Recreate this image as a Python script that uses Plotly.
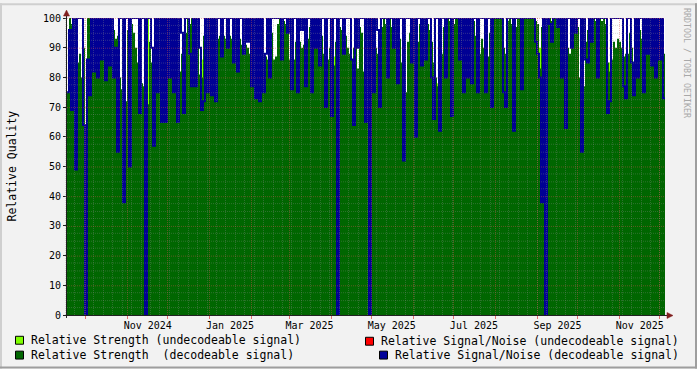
import math
import pandas as pd
import plotly.graph_objects as go

# ---------------- data (2-pixel bins) ----------------
t_start = "2024-09-17 02:00"
t_end = "2025-12-04 18:00"

strength_decodeable = [
    75, 100, 98, 95, 92, 85, 88, 80, 90, 62,
    100, 100, 98, 96, 90, 92, 94, 91, 92, 90,
    93, 95, 97, 96, 93, 94, 80, 76, 74, 72,
    96, 100, 98, 95, 90, 85, 80, 78, 77, 90,
    71, 92, 85, 82, 90, 93, 95, 88, 86, 90,
    98, 100, 97, 95, 93, 85, 82, 88, 92, 95,
    100, 98, 100, 97, 99, 96, 81, 80, 94, 97,
    95, 94, 93, 96, 94, 93, 94, 95, 94, 93,
    93, 94, 93, 92, 93, 92, 93, 91, 92, 91,
    90, 88, 89, 86, 84, 82, 80, 85, 83, 87,
    86, 94, 95, 86, 87, 98, 100, 97, 99, 98,
    97, 86, 85, 86, 92, 91, 92, 90, 91, 90,
    93, 97, 98, 99, 97, 95, 96, 94, 88, 85,
    86, 90, 85, 84, 92, 95, 97, 96, 98, 94,
    90, 88, 86, 90, 92, 83, 97, 95, 82, 77,
    75, 74, 80, 96, 90, 88, 87, 97, 100, 98,
    99, 100, 97, 95, 92, 94, 93, 85, 72, 75,
    92, 95, 90, 88, 86, 92, 98, 100, 99, 97,
    98, 96, 92, 85, 80, 77, 78, 88, 97, 98,
    100, 99, 100, 98, 100, 100, 99, 100, 87, 86,
    90, 97, 98, 99, 94, 84, 88, 93, 90, 86,
    87, 95, 96, 100, 100, 100, 100, 100, 90, 88,
    99, 100, 98, 85, 97, 100, 100, 100, 100, 100,
    100, 100, 100, 100, 99, 98, 83, 97, 99, 100,
    100, 100, 99, 100, 100, 100, 99, 100, 95, 93,
    90, 88, 95, 100, 98, 97, 80, 79, 77, 92,
    96, 100, 98, 100, 99, 97, 100, 99, 100, 98,
    85, 82, 86, 92, 90, 93, 92, 90, 87, 88,
    88, 95, 90, 83, 86, 92, 96, 93, 90, 89,
    91, 92, 90, 86, 88, 87, 95, 98, 88,
]

snr_decodeable = [
    75, 96, 69, 100, 49, 100, 100, 100, 64, 0,
    86, 74, 100, 82, 100, 80, 100, 86, 100, 79,
    100, 84, 100, 80, 90, 55, 100, 100, 38, 100,
    100, 50, 100, 100, 100, 100, 68, 100, 100, 0,
    100, 100, 90, 57, 100, 75, 100, 65, 100, 65,
    100, 80, 100, 75, 100, 65, 100, 95, 68, 100,
    100, 88, 77, 100, 77, 100, 90, 69, 72, 100,
    75, 100, 74, 100, 72, 100, 100, 87, 100, 100,
    90, 100, 100, 85, 100, 82, 100, 100, 88, 100,
    92, 100, 77, 100, 73, 100, 72, 100, 75, 88,
    100, 80, 100, 100, 100, 100, 100, 86, 100, 100,
    95, 100, 76, 100, 100, 75, 100, 96, 100, 77,
    100, 100, 75, 100, 90, 100, 84, 100, 100, 70,
    100, 100, 67, 100, 100, 0, 100, 100, 88, 100,
    100, 100, 86, 64, 100, 90, 100, 100, 100, 65,
    100, 0, 100, 75, 100, 96, 70, 100, 100, 100,
    80, 100, 100, 90, 100, 78, 100, 100, 52, 100,
    100, 100, 85, 100, 60, 100, 100, 84, 100, 86,
    100, 100, 80, 66, 100, 100, 62, 100, 100, 80,
    100, 100, 67, 100, 100, 100, 86, 100, 75, 100,
    80, 100, 78, 100, 100, 75, 100, 100, 100, 75,
    100, 100, 70, 100, 100, 100, 100, 100, 75, 70,
    100, 100, 100, 62, 100, 100, 100, 76, 100, 100,
    100, 100, 100, 100, 92, 88, 80, 38, 100, 0,
    100, 98, 92, 100, 100, 97, 100, 80, 100, 63,
    100, 100, 90, 100, 95, 100, 100, 55, 100, 86,
    85, 100, 92, 100, 100, 80, 100, 100, 100, 100,
    68, 72, 100, 100, 100, 100, 100, 100, 77, 73,
    100, 100, 85, 74, 100, 80, 100, 100, 75, 100,
    88, 100, 84, 100, 80, 100, 86, 100, 73,
]

strength_undecodeable = [
    0, 0, 0, 0, 0, 0, 0, 0, 0, 0,
    0, 0, 0, 0, 0, 0, 0, 0, 0, 0,
    0, 0, 0, 0, 0, 0, 0, 0, 0, 0,
    0, 0, 0, 0, 0, 0, 0, 0, 0, 0,
    100, 0, 0, 0, 0, 0, 0, 0, 0, 0,
    0, 0, 0, 0, 0, 0, 0, 0, 0, 0,
    0, 0, 0, 0, 0, 0, 0, 86, 0, 0,
    0, 0, 0, 0, 0, 0, 0, 0, 0, 0,
    0, 0, 0, 0, 0, 0, 0, 0, 0, 0,
    0, 0, 0, 0, 0, 0, 0, 0, 87, 0,
    0, 0, 0, 0, 0, 0, 0, 0, 0, 0,
    0, 0, 0, 0, 0, 0, 0, 0, 0, 0,
    0, 0, 0, 0, 0, 0, 0, 0, 0, 0,
    0, 0, 0, 87, 0, 0, 0, 0, 0, 0,
    0, 0, 0, 0, 0, 0, 0, 0, 0, 79,
    0, 0, 0, 0, 0, 0, 0, 0, 0, 0,
    0, 0, 0, 0, 0, 0, 0, 0, 0, 0,
    0, 0, 0, 0, 0, 0, 0, 0, 0, 0,
    0, 0, 0, 0, 0, 78, 0, 0, 0, 0,
    0, 0, 0, 0, 0, 0, 0, 0, 0, 0,
    0, 0, 0, 0, 0, 0, 0, 0, 0, 0,
    0, 0, 0, 0, 0, 0, 0, 0, 0, 0,
    0, 0, 0, 0, 0, 0, 0, 0, 0, 0,
    0, 0, 0, 0, 0, 0, 90, 0, 0, 0,
    0, 0, 0, 0, 0, 0, 0, 0, 0, 0,
    0, 0, 0, 0, 0, 0, 0, 0, 0, 0,
    0, 0, 0, 0, 0, 0, 0, 0, 0, 0,
    0, 85, 0, 0, 0, 0, 0, 0, 0, 0,
    0, 0, 0, 0, 0, 0, 0, 0, 0, 0,
    0, 0, 0, 0, 0, 0, 0, 0, 0,
]

N = None
snr_undecodeable = [
    N, N, N, N, N, N, N, N, N, 62,
    59, N, N, N, N, N, N, N, N, N,
] + [N] * 279

x_tick_vals = ["2024-11-16", "2025-01-16", "2025-03-16", "2025-05-16",
               "2025-07-16", "2025-09-16", "2025-11-16"]
x_tick_text = ["Nov 2024", "Jan 2025", "Mar 2025", "May 2025",
               "Jul 2025", "Sep 2025", "Nov 2025"]
y_tick_vals = [0, 10, 20, 30, 40, 50, 60, 70, 80, 90, 100]

legend_items = [
    ("Relative Strength (undecodeable signal)", "#7FFF00"),
    ("Relative Strength  (decodeable signal)", "#006600"),
    ("Relative Signal/Noise (undecodeable signal)", "#FF0000"),
    ("Relative Signal/Noise (decodeable signal)", "#000099"),
]

# ---------------- styling constants ----------------
W, H = 697, 369
L, R, T, B = 67, 32, 15, 54
PW, PH = W - L - R, H - T - B
BACK = "#F2F2F2"
GRID = "rgba(143,143,143,0.32)"
MGRID = "rgba(222,79,79,0.42)"
MTICK = "rgba(222,79,79,0.8)"
ARROW = "#801F1F"
AXIS = "#1F1F1F"
BLUE = "#000094"
FONT = "DejaVu Sans Mono"

T0 = pd.Timestamp(t_start)
T1 = pd.Timestamp(t_end)


def px(x):
    return (x - L) / PW


def py(y):
    return (H - B - y) / PH


def crisp_x(d):
    pix = L + (pd.Timestamp(d) - T0) / (T1 - T0) * PW
    return px(math.floor(pix) + 0.5)


def crisp_y(v):
    pix = T + (100 - v) / 100 * PH
    return py(math.floor(pix) + 0.5)


edges = pd.date_range(t_start, t_end, periods=len(strength_decodeable) + 1)


def stepped(vals):
    return list(vals) + [vals[-1]]


fig = go.Figure()
fig.add_trace(go.Scatter(x=edges, y=stepped(strength_undecodeable), mode="lines",
                         line=dict(shape="hv", width=0, color="#7FFF00"),
                         fill="tozeroy", fillcolor="#7FFF00", showlegend=False,
                         hoverinfo="skip"))
fig.add_trace(go.Scatter(x=edges, y=stepped(strength_decodeable), mode="lines",
                         line=dict(shape="hv", width=0, color="#006600"),
                         fill="tozeroy", fillcolor="#006600", showlegend=False,
                         hoverinfo="skip"))
fig.add_trace(go.Scatter(x=edges, y=stepped(snr_undecodeable), mode="lines",
                         line=dict(shape="hv", width=2, color="#FF0000"),
                         connectgaps=False, showlegend=False, hoverinfo="skip"))
fig.add_trace(go.Scatter(x=edges, y=stepped(snr_decodeable), mode="lines",
                         line=dict(shape="hv", width=2, color=BLUE),
                         showlegend=False, hoverinfo="skip"))

shapes = []
DOT = "1px,1px"
# grid lines drawn above data (as rrdtool does)
for d in pd.date_range("2024-09-16", t_end, freq="W-MON"):
    xp = crisp_x(d)
    shapes.append(dict(type="line", xref="paper", yref="paper", x0=xp, x1=xp, y0=0, y1=1,
                       line=dict(color=GRID, width=1, dash=DOT), layer="above"))
month_starts = [d.strftime("%Y-%m-%d") for d in pd.date_range("2024-10-01", t_end, freq="MS")]
for d in month_starts:
    xp = crisp_x(d)
    shapes.append(dict(type="line", xref="paper", yref="paper", x0=xp, x1=xp, y0=0, y1=1,
                       line=dict(color=MGRID, width=1, dash=DOT), layer="above"))
for k in range(1, 40):
    v = k * 2.5
    if v % 10:
        yp = crisp_y(v)
        shapes.append(dict(type="line", xref="paper", yref="paper", x0=0, x1=1, y0=yp, y1=yp,
                           line=dict(color=GRID, width=1, dash=DOT), layer="above"))
for v in y_tick_vals[1:]:
    yp = crisp_y(v)
    shapes.append(dict(type="line", xref="paper", yref="paper", x0=0, x1=1, y0=yp, y1=yp,
                       line=dict(color=MGRID, width=1, dash=DOT), layer="above"))

# frame shading
shapes += [
    dict(type="rect", xref="paper", yref="paper", x0=px(0), x1=px(W), y0=py(0), y1=py(2),
         fillcolor="#CFCFCF", line=dict(width=0), layer="above"),
    dict(type="rect", xref="paper", yref="paper", x0=px(0), x1=px(2), y0=py(0), y1=py(H),
         fillcolor="#CFCFCF", line=dict(width=0), layer="above"),
    dict(type="rect", xref="paper", yref="paper", x0=px(0), x1=px(W), y0=py(H - 2), y1=py(H),
         fillcolor="#9E9E9E", line=dict(width=0), layer="above"),
    dict(type="rect", xref="paper", yref="paper", x0=px(W - 2), x1=px(W), y0=py(0), y1=py(H),
         fillcolor="#9E9E9E", line=dict(width=0), layer="above"),
]
# axis lines, extensions and arrows
shapes += [
    dict(type="line", xref="paper", yref="paper", x0=px(66.5), x1=px(66.5), y0=py(318), y1=py(10),
         line=dict(color=AXIS, width=1), layer="above"),
    dict(type="line", xref="paper", yref="paper", x0=px(63), x1=px(670), y0=py(315.5), y1=py(315.5),
         line=dict(color=AXIS, width=1), layer="above"),
    dict(type="path", xref="paper", yref="paper",
         path=f"M {px(63.5)} {py(13)} L {px(69.5)} {py(13)} L {px(66.5)} {py(7)} Z",
         fillcolor=ARROW, line=dict(color=ARROW, width=0.5), layer="above"),
    dict(type="path", xref="paper", yref="paper",
         path=f"M {px(667)} {py(312.5)} L {px(667)} {py(318.5)} L {px(673)} {py(315.5)} Z",
         fillcolor=ARROW, line=dict(color=ARROW, width=0.5), layer="above"),
]

annotations = []
# legend
legend_pos = [(15, 340, 30), (15, 355, 30), (365, 341, 380), (379, 355, 394)]
for (label, color), (sx, cy, tx) in zip(legend_items, legend_pos):
    shapes.append(dict(type="rect", xref="paper", yref="paper",
                       x0=px(sx + 0.5), x1=px(sx + 8.5), y0=py(cy - 3.5), y1=py(cy + 4.5),
                       fillcolor=color, line=dict(color="#000000", width=1), layer="above"))
    annotations.append(dict(text=label, xref="paper", yref="paper", x=px(tx - 1), y=py(cy),
                            xanchor="left", yanchor="middle", showarrow=False,
                            font=dict(family=FONT, size=11.5, color="#000000")))
annotations.append(dict(text="Relative Quality", xref="paper", yref="paper", x=px(11), y=py(165),
                        xanchor="center", yanchor="middle", textangle=-90, showarrow=False,
                        font=dict(family=FONT, size=11.5, color="#000000")))
annotations.append(dict(text="RRDTOOL / TOBI OETIKER", xref="paper", yref="paper", x=px(687.5),
                        y=py(60), xanchor="center", yanchor="middle", textangle=90,
                        showarrow=False, font=dict(family=FONT, size=8.3, color="#A8A8A8")))

fig.update_layout(
    width=W, height=H, autosize=False,
    margin=dict(l=L, r=R, t=T, b=B, pad=0),
    paper_bgcolor=BACK, plot_bgcolor="#FFFFFF",
    showlegend=False,
    shapes=shapes, annotations=annotations,
    xaxis=dict(type="date", range=[t_start, t_end], tickmode="array",
               tickvals=x_tick_vals, ticktext=x_tick_text, ticks="", showgrid=False,
               zeroline=False, showline=False, ticklabelstandoff=3,
               tickfont=dict(family=FONT, size=10, color="#000000"),
               minor=dict(tickmode="array", tickvals=month_starts, ticks="outside",
                          ticklen=3, tickcolor=MTICK, showgrid=False)),
    yaxis=dict(range=[0, 100], tickmode="array", tickvals=y_tick_vals, ticks="outside",
               ticklen=3, tickcolor=AXIS, showgrid=False, zeroline=False, showline=False,
               tickfont=dict(family=FONT, size=10, color="#000000")),
)

fig.write_html("out.html", config={"displayModeBar": False})
